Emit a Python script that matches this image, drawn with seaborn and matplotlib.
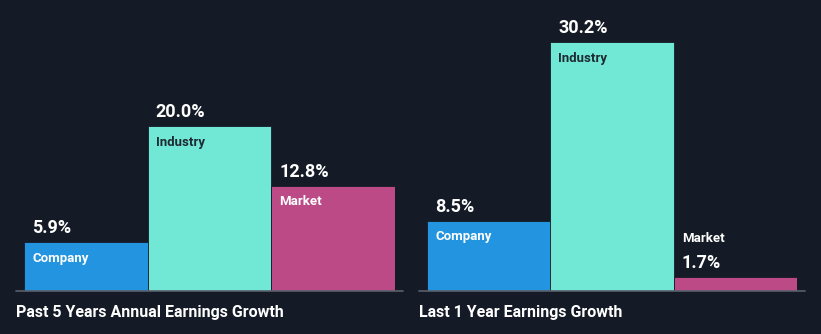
import matplotlib
matplotlib.use("Agg")
import matplotlib.pyplot as plt
import seaborn as sns
import pandas as pd

categories = ["Company", "Industry", "Market"]
past5_values = [5.9, 20.0, 12.8]
last1_values = [8.5, 30.2, 1.7]
panel_titles = ["Past 5 Years Annual Earnings Growth", "Last 1 Year Earnings Growth"]

colors = {"Company": "#2394df", "Industry": "#71e8d6", "Market": "#bb4a86"}
label_colors = {"Company": "#ffffff", "Industry": "#1e2a32", "Market": "#ffffff"}
BG = "#151b26"

sns.set_theme(style="white")
plt.rcParams["font.family"] = ["Roboto", "DejaVu Sans"]

W, H = 821, 334
fig = plt.figure(figsize=(W / 100, H / 100), dpi=100, facecolor=BG)

base_y = 291
px_per_pct = 8.24
ymax = base_y / px_per_pct

panels = [(24, 395, 16, 403, past5_values, panel_titles[0]),
          (427, 797, 419, 805, last1_values, panel_titles[1])]

for x0, x1, lx0, lx1, vals, title in panels:
    ax = fig.add_axes([x0 / W, (H - base_y) / H, (x1 - x0) / W, base_y / H])
    ax.set_facecolor(BG)
    df = pd.DataFrame({"cat": categories, "val": vals})
    sns.barplot(data=df, x="cat", y="val", hue="cat", palette=colors,
                width=1.0, legend=False, ax=ax, linewidth=0.6,
                edgecolor=BG, saturation=1)
    ax.set_xlim(-0.5, 2.5)
    ax.set_ylim(0, ymax)
    ax.set_axis_off()
    # baseline
    w = x1 - x0
    ax.plot([(lx0 - x0) / w, (lx1 - x0) / w], [0, 0], transform=ax.transAxes,
            color="#5a606b", lw=1.2, clip_on=False)
    for i, (c, v) in enumerate(zip(categories, vals)):
        left = i - 0.5
        ax.annotate(f"{v:.1f}%", xy=(left, v), xytext=(5.8, 10),
                    textcoords="offset points", ha="left", va="center",
                    color="white", fontsize=13, fontweight="bold")
        if v * px_per_pct > 30:
            ax.annotate(c, xy=(left, v), xytext=(5.8, -11.5),
                        textcoords="offset points", ha="left", va="center",
                        color=label_colors[c], fontsize=9.5, fontweight="bold")
        else:
            ax.annotate(c, xy=(left, v), xytext=(5.8, 27.5),
                        textcoords="offset points", ha="left", va="center",
                        color="white", fontsize=9.5, fontweight="bold")
    fig.text(lx0 / W, (H - 312) / H, title, ha="left", va="center",
             color="white", fontsize=11.5, fontweight="bold")

fig.savefig("out.png", dpi=100, facecolor=BG)
